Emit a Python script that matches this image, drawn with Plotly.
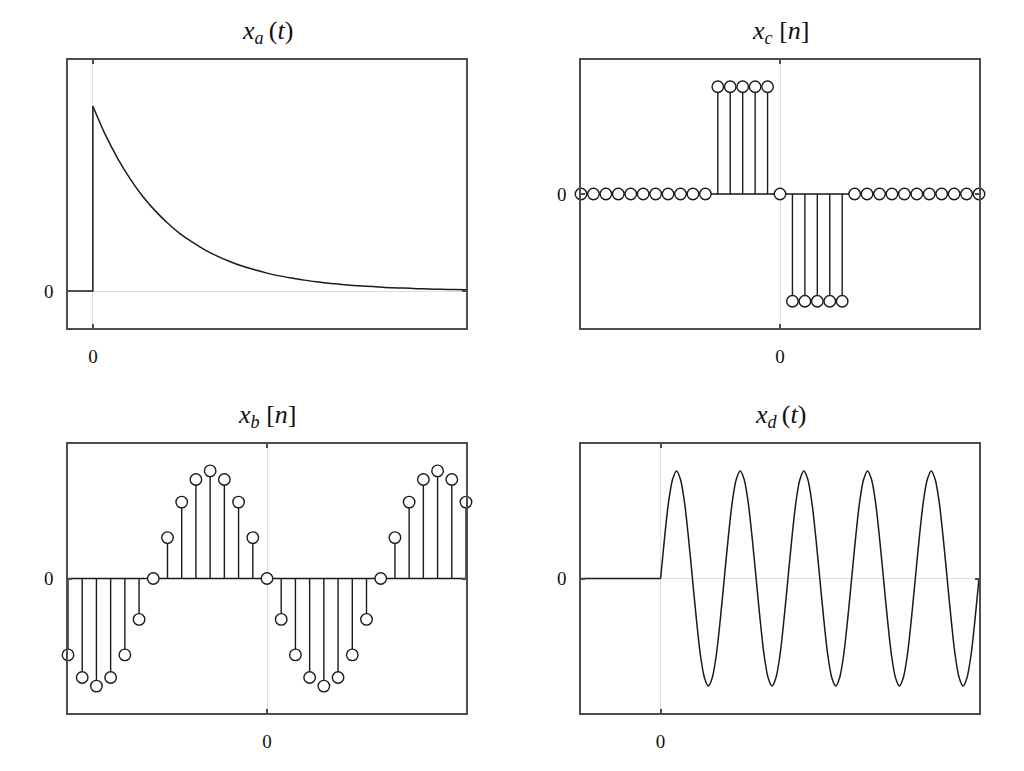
import plotly.graph_objects as go

# ---------------- data ----------------
# x_a(t): zero before t=0, then decaying exponential
xa_t = [i / 2 for i in range(31)]
xa_v = [1.0, 0.846, 0.717, 0.607, 0.513, 0.435, 0.368, 0.311, 0.264, 0.223,
        0.189, 0.160, 0.135, 0.115, 0.097, 0.082, 0.070, 0.059, 0.050, 0.042,
        0.036, 0.030, 0.026, 0.022, 0.018, 0.016, 0.013, 0.011, 0.009, 0.008,
        0.007]
xa_pre_t = [-1, 0, 0]
xa_pre_v = [0, 0, 1.0]

# x_c[n]
xc_n = list(range(-16, 17))
xc_v = [0, 0, 0, 0, 0, 0, 0, 0, 0, 0, 0,
        1, 1, 1, 1, 1,
        0,
        -1, -1, -1, -1, -1,
        0, 0, 0, 0, 0, 0, 0, 0, 0, 0, 0]

# x_b[n]
xb_n = list(range(-14, 15))
xb_v = [-0.71, -0.92, -1.0, -0.92, -0.71, -0.38, 0.0,
        0.38, 0.71, 0.92, 1.0, 0.92, 0.71, 0.38, 0.0,
        -0.38, -0.71, -0.92, -1.0, -0.92, -0.71, -0.38, 0.0,
        0.38, 0.71, 0.92, 1.0, 0.92, 0.71]

# x_d(t): zero before t=0, then oscillation (samples read every 1/16 period)
xd_pre_t = [-1.25, 0]
xd_pre_v = [0, 0]
xd_t = [i / 16 for i in range(81)]
xd_v = [0, 0.38, 0.71, 0.92, 1, 0.92, 0.71, 0.38, 0, -0.38, -0.71, -0.92, -1, -0.92, -0.71, -0.38,
        0, 0.38, 0.71, 0.92, 1, 0.92, 0.71, 0.38, 0, -0.38, -0.71, -0.92, -1, -0.92, -0.71, -0.38,
        0, 0.38, 0.71, 0.92, 1, 0.92, 0.71, 0.38, 0, -0.38, -0.71, -0.92, -1, -0.92, -0.71, -0.38,
        0, 0.38, 0.71, 0.92, 1, 0.92, 0.71, 0.38, 0, -0.38, -0.71, -0.92, -1, -0.92, -0.71, -0.38,
        0, 0.38, 0.71, 0.92, 1, 0.92, 0.71, 0.38, 0, -0.38, -0.71, -0.92, -1, -0.92, -0.71, -0.38,
        0]

titles = ["<i>x<sub>a</sub></i>\u2009(<i>t</i>)",
          "<i>x<sub>c</sub></i> [<i>n</i>]",
          "<i>x<sub>b</sub></i> [<i>n</i>]",
          "<i>x<sub>d</sub></i>\u2009(<i>t</i>)"]

# ---------------- figure ----------------
W, H = 1024, 771
OFF = 8  # page body margin
FONT = "Liberation Serif"
LINE = "#1a1a1a"
FRAME = "#4d4d4d"
GRIDC = "#dddddd"

fig = go.Figure()


def stems(n, v, xa, ya):
    xs, ys = [], []
    for a, b in zip(n, v):
        xs += [a, a, None]
        ys += [0, b, None]
    fig.add_trace(go.Scatter(x=[n[0], n[-1]], y=[0, 0], mode="lines",
                             line=dict(color=LINE, width=1.4),
                             xaxis=xa, yaxis=ya, hoverinfo="skip"))
    fig.add_trace(go.Scatter(x=xs, y=ys, mode="lines",
                             line=dict(color=LINE, width=1.4),
                             xaxis=xa, yaxis=ya, hoverinfo="skip"))
    fig.add_trace(go.Scatter(x=n, y=v, mode="markers",
                             marker=dict(symbol="circle", size=11.5, color="white",
                                         line=dict(color=LINE, width=1.4)),
                             xaxis=xa, yaxis=ya, cliponaxis=False))


# x_a
fig.add_trace(go.Scatter(x=xa_pre_t, y=xa_pre_v, mode="lines",
                         line=dict(color=LINE, width=1.5), xaxis="x", yaxis="y"))
fig.add_trace(go.Scatter(x=xa_t, y=xa_v, mode="lines",
                         line=dict(color=LINE, width=1.5, shape="spline", smoothing=0.8),
                         xaxis="x", yaxis="y"))
# x_c
stems(xc_n, xc_v, "x2", "y2")
# x_b
stems(xb_n, xb_v, "x3", "y3")
# x_d
fig.add_trace(go.Scatter(x=xd_pre_t, y=xd_pre_v, mode="lines",
                         line=dict(color=LINE, width=1.5), xaxis="x4", yaxis="y4"))
fig.add_trace(go.Scatter(x=xd_t, y=xd_v, mode="lines",
                         line=dict(color=LINE, width=1.5, shape="spline", smoothing=0.8),
                         xaxis="x4", yaxis="y4"))


def px_x(a, b):
    return [(a - OFF) / W, (b - OFF) / W]


def px_y(top, bottom):
    return [(H - (bottom - OFF)) / H, (H - (top - OFF)) / H]


colL = px_x(68, 466)
colR = px_x(581, 979)
rowT = px_y(60, 328)
rowB = px_y(444, 713)


def xax(domain, rng, anchor):
    return dict(domain=domain, range=rng, anchor=anchor, showgrid=False,
                zeroline=True, zerolinecolor=GRIDC, zerolinewidth=1,
                showline=True, linecolor=FRAME, linewidth=1.5, mirror="ticks",
                ticks="inside", ticklen=4, tickcolor=FRAME, tickwidth=1.5,
                tickvals=[0], ticktext=["0"], ticklabelstandoff=10,
                tickfont=dict(family=FONT, size=19, color="#111111"),
                fixedrange=True)


def yax(domain, rng, anchor):
    d = xax(domain, rng, anchor)
    d["ticklabelstandoff"] = 9
    return d


fig.update_layout(
    width=W, height=H,
    margin=dict(l=0, r=0, t=0, b=0),
    paper_bgcolor="white", plot_bgcolor="white",
    showlegend=False,
    font=dict(family=FONT, color="#111111"),
    xaxis=xax(colL, [-1, 15], "y"),
    yaxis=yax(rowT, [-0.2, 1.25], "x"),
    xaxis2=xax(colR, [-16, 16], "y2"),
    yaxis2=yax(rowT, [-1.25, 1.25], "x2"),
    xaxis3=xax(colL, [-14, 14], "y3"),
    yaxis3=yax(rowB, [-1.25, 1.25], "x3"),
    xaxis4=xax(colR, [-1.25, 5], "y4"),
    yaxis4=yax(rowB, [-1.25, 1.25], "x4"),
)

title_pos = [((colL[0] + colL[1]) / 2, (H - (32 - OFF)) / H),
             ((colR[0] + colR[1]) / 2, (H - (32 - OFF)) / H),
             ((colL[0] + colL[1]) / 2, (H - (416 - OFF)) / H),
             ((colR[0] + colR[1]) / 2, (H - (416 - OFF)) / H)]
for txt, (px, py) in zip(titles, title_pos):
    fig.add_annotation(text=txt, x=px, y=py, xref="paper", yref="paper",
                       showarrow=False, xanchor="center", yanchor="middle",
                       font=dict(family=FONT, size=26, color="#111111"))

fig.write_html("out.html")
